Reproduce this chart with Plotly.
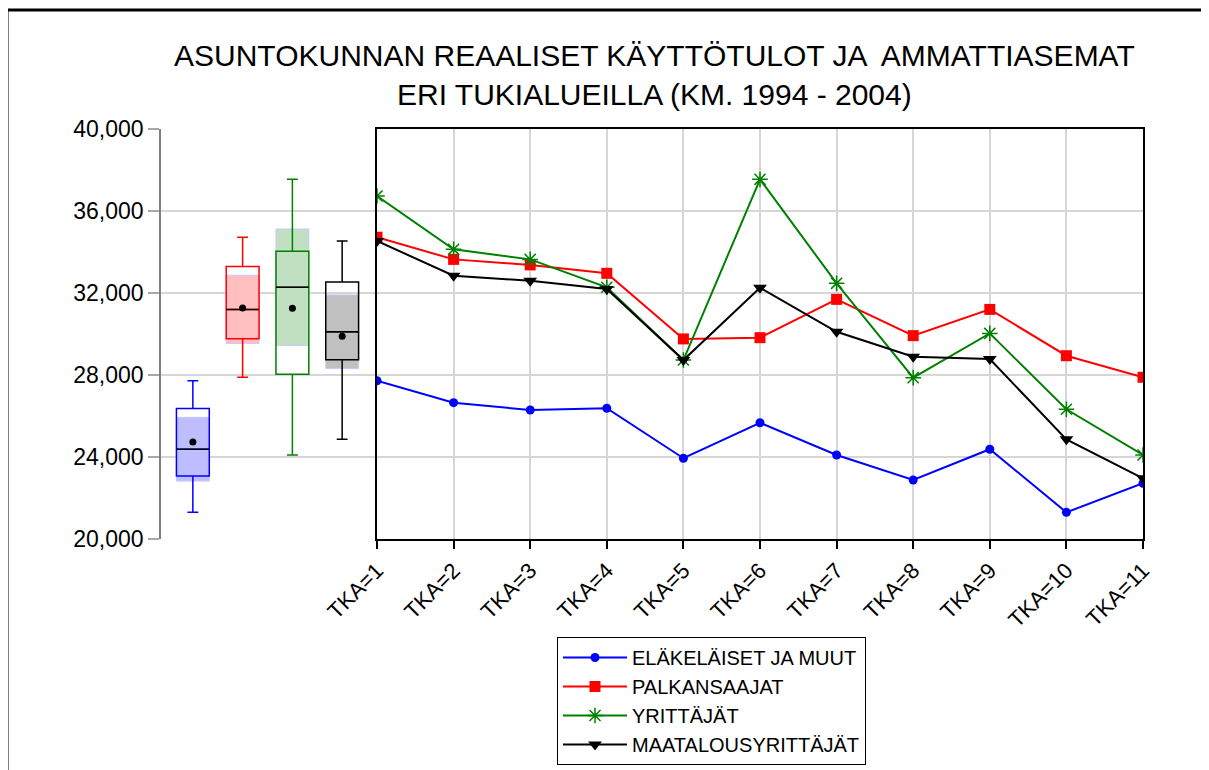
import numpy as np
import plotly.graph_objects as go

# ---------------- data ----------------
categories = ["TKA=1", "TKA=2", "TKA=3", "TKA=4", "TKA=5", "TKA=6",
              "TKA=7", "TKA=8", "TKA=9", "TKA=10", "TKA=11"]
elakelaiset = [27720, 26650, 26290, 26380, 23940, 25670, 24100, 22880, 24380, 21300, 22720]
palkansaajat = [34720, 33640, 33370, 32960, 29760, 29820, 31690, 29920, 31200, 28940, 27890]
yrittajat = [36730, 34130, 33640, 32280, 28730, 37545, 32470, 27870, 30030, 26330, 24100]
maatalous = [34540, 32840, 32600, 32200, 28730, 32260, 30110, 28890, 28780, 24860, 22960]
series_names = ["ELÄKELÄISET JA MUUT", "PALKANSAAJAT", "YRITTÄJÄT", "MAATALOUSYRITTÄJÄT"]
y_ticks = [20000, 24000, 28000, 32000, 36000, 40000]
title_text = ("ASUNTOKUNNAN REAALISET KÄYTTÖTULOT JA  AMMATTIASEMAT<br>"
              "ERI TUKIALUEILLA (KM. 1994 - 2004)")

series = [elakelaiset, palkansaajat, yrittajat, maatalous]
colors = ["#0000ff", "#ff0000", "#008000", "#000000"]
band_colors = ["#bdbdff", "#ffbfbf", "#c1e0c1", "#c0c0c0"]
symbols = ["circle", "square", "asterisk-open", "triangle-down"]
msizes = [9, 11, 13, 12]

# ---------------- geometry ----------------
# the page has an 8px body margin, so screen coordinates are shifted by OFF
OFF = 8
W, H = 1209, 770
ML = 161 - OFF
MT = 129 - OFF
MR = W - (1143 - OFF)
MB = H - (539 - OFF)
PW, PH = W - ML - MR, H - MT - MB


def px_x(px):
    return (px - OFF - ML) / PW


def px_y(py):
    return (H - MB - (py - OFF)) / PH


split = px_x(377)
FONT = "Liberation Sans, Arial, sans-serif"

fig = go.Figure()

# ---------------- box-plot panel ----------------
box_w = 0.66
stats = []
for vals in series:
    v = np.array(vals, dtype=float)
    q1, med, q3 = np.quantile(v, [0.25, 0.5, 0.75], method="normal_unbiased")
    iqr = q3 - q1
    inside = v[(v >= q1 - 1.5 * iqr) & (v <= q3 + 1.5 * iqr)]
    half = 1.57 * iqr / np.sqrt(len(v))
    stats.append(dict(q1=q1, med=med, q3=q3, lo=inside.min(), hi=inside.max(),
                      mean=v.mean(), clo=med - half, chi=med + half))

positions = list(range(len(series)))

fig.add_trace(go.Bar(
    x=positions,
    base=[s["clo"] for s in stats],
    y=[s["chi"] - s["clo"] for s in stats],
    width=box_w,
    marker=dict(color=band_colors, line=dict(color="#c8c8ff", width=1)),
    xaxis="x", yaxis="y", showlegend=False, hoverinfo="skip"))

for i, s in enumerate(stats):
    fig.add_trace(go.Box(
        x=[positions[i]], q1=[s["q1"]], median=[s["med"]], q3=[s["q3"]],
        lowerfence=[s["lo"]], upperfence=[s["hi"]],
        width=box_w, whiskerwidth=0.33,
        line=dict(color=colors[i], width=1.5),
        fillcolor="rgba(0,0,0,0)",
        xaxis="x", yaxis="y", showlegend=False, hoverinfo="skip"))
    fig.add_trace(go.Scatter(
        x=[positions[i] - box_w / 2, positions[i] + box_w / 2],
        y=[s["med"], s["med"]], mode="lines",
        line=dict(color="black", width=1.5),
        xaxis="x", yaxis="y", showlegend=False, hoverinfo="skip"))

fig.add_trace(go.Scatter(
    x=positions, y=[s["mean"] for s in stats], mode="markers",
    marker=dict(color="black", size=7),
    xaxis="x", yaxis="y", showlegend=False, hoverinfo="skip"))

# ---------------- line panel ----------------
for i, vals in enumerate(series):
    fig.add_trace(go.Scatter(
        x=categories, y=vals, name=series_names[i], mode="lines+markers",
        line=dict(color=colors[i], width=2),
        marker=dict(symbol=symbols[i], size=msizes[i], color=colors[i],
                    line=dict(color=colors[i], width=1.5 if i == 2 else 0)),
        xaxis="x2", yaxis="y2"))

grid = "#d6d6d6"
fig.update_layout(
    width=W, height=H,
    margin=dict(l=ML, r=MR, t=MT, b=MB, pad=0, autoexpand=False),
    paper_bgcolor="white", plot_bgcolor="white",
    font=dict(family=FONT, color="black"),
    barmode="overlay",
    xaxis=dict(domain=[0, split], range=[-0.64, 3.70], visible=False,
               fixedrange=True),
    yaxis=dict(domain=[0, 1], range=[20000, 40000], tickvals=y_ticks,
               tickformat=",d", showline=True, linecolor="#808080", linewidth=1.5,
               ticks="outside", ticklen=11, tickcolor="#a8a8a8", tickwidth=1.5,
               showgrid=True, gridcolor=grid, gridwidth=1.5, zeroline=False,
               tickfont=dict(size=23, family=FONT), anchor="x"),
    xaxis2=dict(domain=[split, 1], type="category", categoryorder="array",
                categoryarray=categories, range=[0, len(categories) - 1],
                anchor="y2", showline=True, mirror=True, linecolor="black",
                linewidth=2, ticks="outside", ticklen=8, tickcolor="black",
                tickwidth=1.5, showgrid=True, gridcolor=grid, gridwidth=1.5,
                tickangle=-45, tickfont=dict(size=22, family=FONT)),
    yaxis2=dict(domain=[0, 1], anchor="x2", matches="y", range=[20000, 40000],
                tickvals=y_ticks, showticklabels=False, showline=True,
                mirror=True, linecolor="black", linewidth=2, ticks="",
                showgrid=True, gridcolor=grid, gridwidth=1.5, zeroline=False),
    legend=dict(orientation="v", x=px_x(557), y=px_y(637),
                xanchor="left", yanchor="top",
                bordercolor="black", borderwidth=1, bgcolor="white",
                font=dict(size=20, family=FONT), itemwidth=64,
                tracegroupgap=0),
    showlegend=True,
)

fig.add_annotation(text=title_text, x=px_x(654), y=px_y(75),
                   xref="paper", yref="paper", showarrow=False,
                   xanchor="center", yanchor="middle", align="center",
                   font=dict(size=30, family=FONT))

fig.add_shape(type="rect", xref="paper", yref="paper",
              x0=px_x(7), x1=px_x(1208), y0=px_y(800), y1=px_y(10),
              line=dict(color="black", width=3), layer="above")

fig.write_html("out.html")
